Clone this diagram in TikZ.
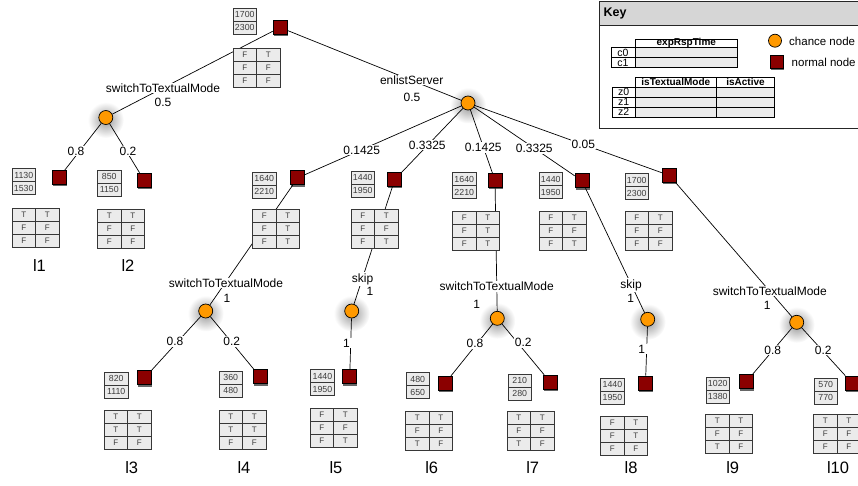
\documentclass[tikz,border=0pt]{standalone}
\usepackage{fontspec}
\setmainfont{Liberation Sans}
\usetikzlibrary{shadows}
\pgfdeclarelayer{glow}
\pgfdeclarelayer{edges}
\pgfsetlayers{glow,edges,main}
\definecolor{nred}{RGB}{139,0,0}
\definecolor{corange}{RGB}{255,153,0}
\definecolor{cellgray}{RGB}{235,235,235}
\definecolor{cellline}{RGB}{55,55,55}
\definecolor{keyhead}{RGB}{214,214,214}
\definecolor{celltext}{RGB}{60,60,60}
\tikzset{
 normal/.style={rectangle, draw=black, line width=0.7pt, fill=nred, minimum size=14pt, inner sep=0pt, drop shadow={shadow xshift=0.5pt, shadow yshift=-1.8pt, opacity=0.6, fill=black}},
 chance/.style={circle, draw=black, line width=0.7pt, fill=corange, minimum size=14pt, inner sep=0pt},
 conn/.style={draw=black, line width=0.7pt},
 lbl/.style={fill=white, inner sep=1pt, font=\fontsize{12}{14}\selectfont},
 leaf/.style={inner sep=0pt, font=\fontsize{16.5}{18}\selectfont},
 cell/.style={draw=cellline, fill=cellgray, line width=0.6pt},
 celltxt/.style={inner sep=0pt, text=celltext, font=\fontsize{8}{9}\selectfont},
 valtxt/.style={inner sep=0pt, text=celltext, font=\fontsize{8.8}{9}\selectfont},
 glowc/.style={inner color=black!40, outer color=white},
 keyline/.style={draw=black, line width=0.6pt},
 keytxt/.style={inner sep=0pt, font=\fontsize{10.5}{10}\selectfont},
 keyhd/.style={inner sep=0pt, font=\bfseries\fontsize{10}{10}\selectfont},
}
\newcommand\mkval[5]{%
 \draw[cell] (#2,#3) rectangle ++(23.5,13);
 \draw[cell] (#2,{#3+13}) rectangle ++(23.5,13);
 \node[valtxt] (#1-a) at ({#2+11.75},{#3+6.5}) {#4};
 \node[valtxt] (#1-b) at ({#2+11.75},{#3+19.5}) {#5};}
\newcommand\mktab[9]{%
 \draw[cell] (#2,#3) rectangle ++(47,39);
 \draw[cellline, line width=0.6pt] ({#2+23.5},#3) -- ++(0,39) (#2,{#3+13}) -- ++(47,0) (#2,{#3+26}) -- ++(47,0);
 \node[celltxt] (#1-1) at ({#2+11.75},{#3+6.5}) {#4};
 \node[celltxt] (#1-2) at ({#2+35.25},{#3+6.5}) {#5};
 \node[celltxt] (#1-3) at ({#2+11.75},{#3+19.5}) {#6};
 \node[celltxt] (#1-4) at ({#2+35.25},{#3+19.5}) {#7};
 \node[celltxt] (#1-5) at ({#2+11.75},{#3+32.5}) {#8};
 \node[celltxt] (#1-6) at ({#2+35.25},{#3+32.5}) {#9};}
\begin{document}
\begin{tikzpicture}[x=1pt,y=-1pt]
\useasboundingbox (0,0) rectangle (858,485);
% decision / chance nodes
\node[normal] (R) at (280,27.5) {};
\node[chance] (C1) at (105.8,117.5) {};
\node[chance] (C2) at (468,103) {};
\node[normal] (L1) at (59,177.5) {};
\node[normal] (L2) at (144,180) {};
\node[normal] (A) at (297.8,177.8) {};
\node[normal] (B) at (394.8,179.5) {};
\node[normal] (Cn) at (495,180.5) {};
\node[normal] (D) at (582,180.8) {};
\node[normal] (E) at (669.5,175.5) {};
\node[chance] (C3) at (205.7,311) {};
\node[chance] (C4) at (351.7,311) {};
\node[chance] (C5) at (497.3,318.3) {};
\node[chance] (C6) at (647.7,319.3) {};
\node[chance] (C7) at (796.7,322.3) {};
\node[normal] (L3) at (144.7,377.8) {};
\node[normal] (L4) at (260,376.7) {};
\node[normal] (L5) at (349.7,376.7) {};
\node[normal] (L6) at (445,383.3) {};
\node[normal] (L7) at (550.3,382.2) {};
\node[normal] (L8) at (645.5,383) {};
\node[normal] (L9) at (746.3,381.7) {};
\node[normal] (L10) at (852,383) {};
% glows
\begin{pgfonlayer}{glow}
\foreach \c in {C1,C2,C3,C4,C5,C6,C7}
  \shade[glowc] ([yshift=-2.5pt]\c.center) circle (18);
\end{pgfonlayer}
% connectors
\begin{pgfonlayer}{edges}
\draw[conn] (R) -- (C1);
\draw[conn] (R) -- (C2);
\draw[conn] (C1) -- (L1);
\draw[conn] (C1) -- (L2);
\draw[conn] (C2) -- (A);
\draw[conn] (C2) -- (B);
\draw[conn] (C2) -- (Cn);
\draw[conn] (C2) -- (D);
\draw[conn] (C2) -- (E);
\draw[conn] (A) -- (C3);
\draw[conn] (C3) -- (L3);
\draw[conn] (C3) -- (L4);
\draw[conn] (B) -- (C4);
\draw[conn] (C4) -- (L5);
\draw[conn] (Cn) -- (C5);
\draw[conn] (C5) -- (L6);
\draw[conn] (C5) -- (L7);
\draw[conn] (D) -- (C6);
\draw[conn] (C6) -- (L8);
\draw[conn] (E) -- (C7);
\draw[conn] (C7) -- (L9);
\draw[conn] (C7) -- (L10);
\end{pgfonlayer}
% value boxes and tables
\mkval{vR}{233}{8}{1700}{2300}
\mktab{tR}{233}{48}{F}{T}{F}{F}{F}{F}
\mkval{v1}{12}{168.5}{1130}{1530}
\mktab{t1}{12}{208.5}{T}{T}{F}{F}{F}{F}
\mkval{v2}{97.5}{170}{850}{1150}
\mktab{t2}{97.5}{209}{T}{T}{F}{F}{F}{F}
\mkval{vA}{252.5}{172}{1640}{2210}
\mktab{tA}{252.5}{209.5}{F}{T}{F}{T}{F}{T}
\mkval{vB}{351}{171}{1440}{1950}
\mktab{tB}{351}{209}{F}{T}{F}{F}{F}{T}
\mkval{vC}{452.5}{172.5}{1640}{2210}
\mktab{tC}{452.5}{211}{F}{T}{F}{T}{F}{T}
\mkval{vD}{539}{172.5}{1440}{1950}
\mktab{tD}{539}{211}{F}{T}{F}{F}{F}{T}
\mkval{vE}{625}{173.5}{1700}{2300}
\mktab{tE}{625}{211}{F}{T}{F}{F}{F}{F}
\mkval{v3}{104.5}{372}{820}{1110}
\mktab{t3}{104}{410}{T}{T}{T}{T}{F}{F}
\mkval{v4}{219}{371}{360}{480}
\mktab{t4}{219}{410}{T}{T}{T}{T}{F}{F}
\mkval{v5}{310.7}{369.5}{1440}{1950}
\mktab{t5}{310}{408.3}{F}{T}{F}{F}{F}{T}
\mkval{v6}{406}{372.7}{480}{650}
\mktab{t6}{405.5}{411}{T}{T}{F}{F}{T}{F}
\mkval{v7}{508}{374}{210}{280}
\mktab{t7}{507}{411}{T}{T}{F}{F}{T}{F}
\mkval{v8}{600.7}{378.3}{1440}{1950}
\mktab{t8}{600.5}{416}{F}{T}{F}{T}{F}{F}
\mkval{v9}{706}{377.3}{1020}{1380}
\mktab{t9}{705.5}{414}{T}{T}{F}{F}{T}{F}
\mkval{v10}{814}{378.3}{570}{770}
\mktab{t10}{813.5}{414}{T}{T}{F}{F}{F}{F}
% edge labels
\node[lbl] (s0) at (163,88) {switchToTextualMode};
\node[lbl] (p0) at (163,102.5) {0.5};
\node[lbl] (es) at (411.7,80) {enlistServer};
\node[lbl] (p1) at (412,97) {0.5};
\node[lbl] (p2) at (76,151) {0.8};
\node[lbl] (p3) at (128,151) {0.2};
\node[lbl] (p4) at (361.7,150) {0.1425};
\node[lbl] (p5) at (427.3,145) {0.3325};
\node[lbl] (p6) at (483.3,147.3) {0.1425};
\node[lbl] (p7) at (534.3,148.3) {0.3325};
\node[lbl] (p8) at (583.3,144) {0.05};
\node[lbl] (s1) at (226,283) {switchToTextualMode};
\node[lbl] (p9) at (227,298) {1};
\node[lbl] (p10) at (175,341.7) {0.8};
\node[lbl] (p11) at (231.7,341.7) {0.2};
\node[lbl] (k1) at (362.5,279) {skip};
\node[lbl] (p12) at (370,291) {1};
\node[lbl, inner xsep=3.5pt] (p13) at (346.5,343) {1};
\node[lbl] (s2) at (496.7,286.7) {switchToTextualMode};
\node[lbl] (p14) at (476.7,304) {1};
\node[lbl] (p15) at (475,343.3) {0.8};
\node[lbl] (p16) at (523.3,342.7) {0.2};
\node[lbl] (k2) at (631,285) {skip};
\node[lbl] (p17) at (630.7,298.3) {1};
\node[lbl, inner xsep=3.5pt] (p18) at (641.7,349.3) {1};
\node[lbl] (s3) at (769.8,291) {switchToTextualMode};
\node[lbl] (p19) at (767.3,305) {1};
\node[lbl] (p20) at (772.7,350) {0.8};
\node[lbl] (p21) at (823.3,350) {0.2};
% leaf names
\node[leaf] (n1) at (39.5,266) {l1};
\node[leaf] (n2) at (128,266) {l2};
\node[leaf] (n3) at (131.7,468) {l3};
\node[leaf] (n4) at (244,468) {l4};
\node[leaf] (n5) at (336,468) {l5};
\node[leaf] (n6) at (431.7,468) {l6};
\node[leaf] (n7) at (532.7,468) {l7};
\node[leaf] (n8) at (631,468) {l8};
\node[leaf] (n9) at (732.7,468) {l9};
\node[leaf] (n10) at (838,468) {l10};
% key
\draw[draw=black!85, line width=0.8pt, fill=white] (599,1.7) rectangle (880,128.3);
\draw[draw=black!85, line width=0.8pt, fill=keyhead] (599,1.7) rectangle (880,25);
\node[anchor=west, inner sep=0pt, font=\bfseries\fontsize{12.5}{13}\selectfont] (keytitle) at (603.5,13.5) {Key};
\draw[keyline, fill=white] (635,39) rectangle (737.7,47.7);
\node[keyhd] (kh1) at (686.3,43.3) {expRspTime};
\draw[keyline, fill=white] (611,47.7) rectangle (635,57.7);
\draw[keyline, fill=cellgray] (635,47.7) rectangle (737.7,57.7);
\draw[keyline, fill=white] (611,57.7) rectangle (635,67.7);
\draw[keyline, fill=cellgray] (635,57.7) rectangle (737.7,67.7);
\node[keytxt] (kc0) at (623,52.5) {c0};
\node[keytxt] (kc1) at (623,62.5) {c1};
\draw[keyline, fill=white] (635,77.7) rectangle (716.7,87.3);
\draw[keyline, fill=white] (716.7,77.7) rectangle (774.3,87.3);
\node[keyhd] (kh2) at (675.8,82.3) {isTextualMode};
\node[keyhd] (kh3) at (745.5,82.3) {isActive};
\foreach \r/\t in {0/z0,1/z1,2/z2}{
  \draw[keyline, fill=white] (612.3,{87.3+10*\r}) rectangle (635,{97.3+10*\r});
  \draw[keyline, fill=cellgray] (635,{87.3+10*\r}) rectangle (716.7,{97.3+10*\r});
  \draw[keyline, fill=cellgray] (716.7,{87.3+10*\r}) rectangle (774.3,{97.3+10*\r});
  \node[keytxt] (k\t) at (623.6,{92.1+10*\r}) {\t};
}
\node[chance, minimum size=13pt] (kchance) at (775,40.7) {};
\node[normal, minimum size=13pt] (knormal) at (776.7,61.7) {};
\node[anchor=west, inner sep=0pt, font=\fontsize{11.5}{12}\selectfont] (kct) at (789,41) {chance node};
\node[anchor=west, inner sep=0pt, font=\fontsize{11.5}{12}\selectfont] (knt) at (791.5,62.5) {normal node};
\end{tikzpicture}
\end{document}
